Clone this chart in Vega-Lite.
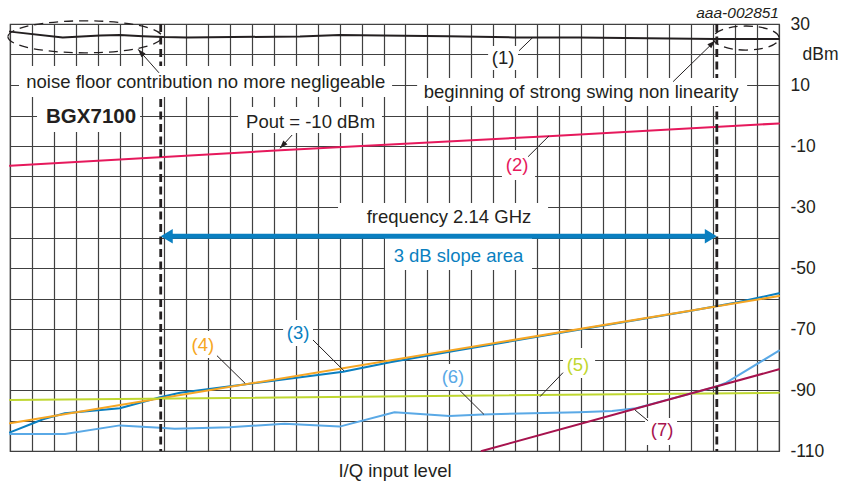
{
  "$schema": "https://vega.github.io/schema/vega-lite/v6.json",
  "width": 769,
  "height": 427,
  "autosize": {"type": "none"},
  "padding": {"left": 10, "top": 24, "right": 65, "bottom": 32},
  "background": "white",
  "config": {
    "view": {"stroke": "#404040", "strokeWidth": 1.2},
    "font": "Liberation Sans"
  },
  "title": {"text": "aaa-002851", "anchor": "end", "frame": "group", "fontStyle": "italic", "fontWeight": "normal", "fontSize": 15.5, "color": "#231f20", "offset": -6, "font": "Liberation Sans"},
  "datasets": {
    "series": [
      {"s": "1", "x": 0, "y": 27.5}, {"s": "1", "x": 2.4, "y": 25.6}, {"s": "1", "x": 4.1, "y": 26.2}, {"s": "1", "x": 5.0, "y": 26.4}, {"s": "1", "x": 6.05, "y": 26.0}, {"s": "1", "x": 7.0, "y": 25.7}, {"s": "1", "x": 8.05, "y": 25.6}, {"s": "1", "x": 13.2, "y": 25.9}, {"s": "1", "x": 15.0, "y": 26.4}, {"s": "1", "x": 19.9, "y": 26.0}, {"s": "1", "x": 22.9, "y": 25.6}, {"s": "1", "x": 25.9, "y": 25.6}, {"s": "1", "x": 32.1, "y": 25.1}, {"s": "1", "x": 35, "y": 25.1},
      {"s": "2", "x": 0, "y": -16.5}, {"s": "2", "x": 12.3, "y": -11.4}, {"s": "2", "x": 24.5, "y": -6.8}, {"s": "2", "x": 35, "y": -2.6},
      {"s": "3", "x": 0, "y": -103.9}, {"s": "3", "x": 1.05, "y": -100.9}, {"s": "3", "x": 1.5, "y": -99.6}, {"s": "3", "x": 2.5, "y": -97.6}, {"s": "3", "x": 5.0, "y": -96.0}, {"s": "3", "x": 6.83, "y": -92.4}, {"s": "3", "x": 7.74, "y": -90.9}, {"s": "3", "x": 11, "y": -87.9}, {"s": "3", "x": 15.16, "y": -84.0}, {"s": "3", "x": 17.3, "y": -80.9}, {"s": "3", "x": 20.2, "y": -77.2}, {"s": "3", "x": 25, "y": -71.3}, {"s": "3", "x": 31, "y": -64.0}, {"s": "3", "x": 33, "y": -61.4}, {"s": "3", "x": 35, "y": -58.3},
      {"s": "4", "x": 0, "y": -100.9}, {"s": "4", "x": 35, "y": -59.2},
      {"s": "5", "x": 0, "y": -93.3}, {"s": "5", "x": 35, "y": -90.9},
      {"s": "6", "x": 0, "y": -104.4}, {"s": "6", "x": 2.5, "y": -104.4}, {"s": "6", "x": 5.0, "y": -101.6}, {"s": "6", "x": 6.83, "y": -102.4}, {"s": "6", "x": 7.5, "y": -102.7}, {"s": "6", "x": 10.0, "y": -102.2}, {"s": "6", "x": 12.5, "y": -101.1}, {"s": "6", "x": 15.0, "y": -102.0}, {"s": "6", "x": 17.5, "y": -97.3}, {"s": "6", "x": 20.0, "y": -98.5}, {"s": "6", "x": 21.5, "y": -98.0}, {"s": "6", "x": 25.9, "y": -97.3}, {"s": "6", "x": 27.4, "y": -96.9}, {"s": "6", "x": 28.5, "y": -96.0}, {"s": "6", "x": 29.6, "y": -93.8}, {"s": "6", "x": 32.1, "y": -89.0}, {"s": "6", "x": 32.6, "y": -87.6}, {"s": "6", "x": 35, "y": -77.1},
      {"s": "7", "x": 21.47, "y": -110}, {"s": "7", "x": 35, "y": -83.2}
    ],
    "boxes": [
      {"x": 0.41, "x2": 17.39, "y": 16.23, "y2": 6.07},
      {"x": 18.53, "x2": 33.55, "y": 12.3, "y2": 3.11},
      {"x": 1.23, "x2": 5.92, "y": 6.07, "y2": -5.41},
      {"x": 10.38, "x2": 16.93, "y": 2.79, "y2": -5.74},
      {"x": 21.76, "x2": 23.12, "y": 22.79, "y2": 14.92},
      {"x": 22.39, "x2": 23.9, "y": -11.31, "y2": -21.15},
      {"x": 14.93, "x2": 24.49, "y": -28.69, "y2": -39.51},
      {"x": 17.07, "x2": 23.76, "y": -39.51, "y2": -50.66},
      {"x": 12.43, "x2": 13.79, "y": -67.05, "y2": -75.57},
      {"x": 8.19, "x2": 9.74, "y": -70.66, "y2": -79.51},
      {"x": 25.17, "x2": 26.63, "y": -76.23, "y2": -86.07},
      {"x": 19.48, "x2": 20.85, "y": -81.48, "y2": -90.0},
      {"x": 28.9, "x2": 30.36, "y": -99.18, "y2": -108.03}
    ],
    "texts": [
      {"t": "noise floor contribution no more negligeable", "x": 8.91, "y": 11.1, "c": "1"},
      {"t": "beginning of strong swing non linearity", "x": 25.99, "y": 7.8, "c": "1"},
      {"t": "Pout = -10 dBm", "x": 13.68, "y": -2.0, "c": "1"},
      {"t": "(1)", "x": 22.44, "y": 18.75, "c": "1"},
      {"t": "(2)", "x": 23.08, "y": -16.2, "c": "2"},
      {"t": "frequency 2.14 GHz", "x": 19.98, "y": -33.4, "c": "1"},
      {"t": "3 dB slope area", "x": 20.41, "y": -46.1, "c": "3"},
      {"t": "(3)", "x": 13.11, "y": -71.4, "c": "3"},
      {"t": "(4)", "x": 8.78, "y": -75.2, "c": "4"},
      {"t": "(5)", "x": 25.85, "y": -81.8, "c": "5"},
      {"t": "(6)", "x": 20.16, "y": -85.8, "c": "6"},
      {"t": "(7)", "x": 29.68, "y": -103.1, "c": "7"}
    ],
    "leaders": [
      {"x": 6.78, "y": 14.0, "x2": 5.83, "y2": 21.7},
      {"x": 30.18, "y": 11.1, "x2": 32.09, "y2": 24.5},
      {"x": 12.84, "y": -6.4, "x2": 12.29, "y2": -10.75},
      {"x": 23.17, "y": 21.25, "x2": 23.8, "y2": 25.64},
      {"x": 23.58, "y": -13.5, "x2": 24.53, "y2": -6.7},
      {"x": 13.79, "y": -73.6, "x2": 15.2, "y2": -83.7},
      {"x": 9.42, "y": -78.75, "x2": 10.7, "y2": -87.8},
      {"x": 25.17, "y": -84.3, "x2": 24.12, "y2": -92.2},
      {"x": 20.48, "y": -90.2, "x2": 21.57, "y2": -98.0},
      {"x": 29.04, "y": -100.1, "x2": 28.45, "y2": -96.6}
    ]
  },
  "layer": [
    {
      "data": {"name": "series"},
      "mark": {"type": "line", "strokeCap": "round", "strokeJoin": "round"},
      "encoding": {
        "x": {"field": "x", "type": "quantitative", "scale": {"domain": [0, 35], "nice": false, "zero": false},
          "axis": {"values": [0,1,2,3,4,5,6,7,8,9,10,11,12,13,14,15,16,17,18,19,20,21,22,23,24,25,26,27,28,29,30,31,32,33,34,35], "tickCount": 100, "labels": false, "ticks": false, "domain": false, "grid": true, "gridColor": "#404040", "gridWidth": 1.2, "gridOpacity": 1, "title": "I/Q input level", "titleFont": "Liberation Sans", "titleFontSize": 18.5, "titleFontWeight": "normal", "titleColor": "#231f20", "titlePadding": 10}},
        "y": {"field": "y", "type": "quantitative", "scale": {"domain": [-110, 30], "nice": false, "zero": false},
          "axis": {"orient": "right", "values": [-110,-100,-90,-80,-70,-60,-50,-40,-30,-20,-10,0,10,20,30], "tickCount": 100, "ticks": false, "domain": false, "grid": true, "gridColor": "#404040", "gridWidth": 1.2, "gridOpacity": 1, "title": null,
            "labelExpr": "datum.value == 20 ? 'dBm' : ((datum.value - 10) % 20 == 0 ? '' + datum.value : '')",
            "labelFont": "Liberation Sans", "labelFontSize": 17.5, "labelColor": "#231f20", "labelAlign": "left", "labelBaseline": "middle", "labelOverlap": false, "labelBound": false,
            "labelPadding": {"condition": {"test": "datum.value == 20", "value": 23}, "value": 11}}},
        "color": {"field": "s", "type": "nominal", "scale": {"domain": ["1","2","3","4","5","6","7"], "range": ["#231f20","#e6195c","#0a7fc0","#f6a623","#bfd730","#5aa9e6","#a7134e"]}, "legend": null},
        "strokeWidth": {"field": "s", "type": "nominal", "scale": {"domain": ["1","2","3","4","5","6","7"], "range": [2, 2, 2, 3.5, 2.5, 2, 3]}, "legend": null}
      }
    },
    {
      "data": {"values": [{"x": 6.86}, {"x": 32.17}]},
      "mark": {"type": "rule", "color": "#231f20", "strokeWidth": 2.8, "strokeDash": [8, 4.5]},
      "encoding": {
        "x": {"field": "x", "type": "quantitative"}
      }
    },
    {
      "data": {"name": "boxes"},
      "mark": {"type": "rect", "fill": "white", "stroke": null},
      "encoding": {
        "x": {"field": "x", "type": "quantitative"},
        "x2": {"field": "x2"},
        "y": {"field": "y", "type": "quantitative"},
        "y2": {"field": "y2"}
      }
    },
    {
      "data": {"values": [{"x": 3.41, "y": 25.8}]},
      "mark": {"type": "point", "filled": false, "opacity": 1, "stroke": "#231f20", "strokeWidth": 1.3, "strokeDash": [9, 6], "size": 23716, "shape": "M-1,0A1,0.208,0,1,0,1,0A1,0.208,0,1,0,-1,0Z"},
      "encoding": {
        "x": {"field": "x", "type": "quantitative"},
        "y": {"field": "y", "type": "quantitative"}
      }
    },
    {
      "data": {"values": [{"x": 33.5, "y": 25.4}]},
      "mark": {"type": "point", "filled": false, "opacity": 1, "stroke": "#231f20", "strokeWidth": 1.3, "strokeDash": [9, 6], "size": 4356, "shape": "M-1,0A1,0.364,0,1,0,1,0A1,0.364,0,1,0,-1,0Z"},
      "encoding": {
        "x": {"field": "x", "type": "quantitative"},
        "y": {"field": "y", "type": "quantitative"}
      }
    },
    {
      "data": {"name": "texts"},
      "mark": {"type": "text", "font": "Liberation Sans", "fontSize": 18.5, "align": "center", "baseline": "middle"},
      "encoding": {
        "x": {"field": "x", "type": "quantitative"},
        "y": {"field": "y", "type": "quantitative"},
        "text": {"field": "t"},
        "color": {"field": "c", "type": "nominal", "scale": {"domain": ["1","2","3","4","5","6","7"], "range": ["#231f20","#e6195c","#0a7fc0","#f6a623","#bfd730","#5aa9e6","#a7134e"]}, "legend": null}
      }
    },
    {
      "data": {"values": [{"t": "BGX7100", "x": 3.69, "y": -0.6}]},
      "mark": {"type": "text", "font": "Liberation Sans", "fontSize": 20.5, "fontWeight": "bold", "align": "center", "baseline": "middle", "color": "#231f20"},
      "encoding": {
        "x": {"field": "x", "type": "quantitative"},
        "y": {"field": "y", "type": "quantitative"},
        "text": {"field": "t"}
      }
    },
    {
      "data": {"name": "leaders"},
      "mark": {"type": "rule", "color": "#231f20", "strokeWidth": 1},
      "encoding": {
        "x": {"field": "x", "type": "quantitative"},
        "x2": {"field": "x2"},
        "y": {"field": "y", "type": "quantitative"},
        "y2": {"field": "y2"}
      }
    },
    {
      "data": {"values": [{"x": 5.83, "y": 21.7}]},
      "mark": {"type": "point", "filled": true, "opacity": 1, "fill": "#231f20", "strokeWidth": 0, "size": 64, "shape": "M0,0L-2,-0.7L-2,0.7Z", "angle": 228},
      "encoding": {
        "x": {"field": "x", "type": "quantitative"},
        "y": {"field": "y", "type": "quantitative"}
      }
    },
    {
      "data": {"values": [{"x": 32.09, "y": 24.5}]},
      "mark": {"type": "point", "filled": true, "opacity": 1, "fill": "#231f20", "strokeWidth": 0, "size": 64, "shape": "M0,0L-2,-0.7L-2,0.7Z", "angle": 316},
      "encoding": {
        "x": {"field": "x", "type": "quantitative"},
        "y": {"field": "y", "type": "quantitative"}
      }
    },
    {
      "data": {"values": [{"x": 12.29, "y": -10.75}]},
      "mark": {"type": "point", "filled": true, "opacity": 1, "fill": "#231f20", "strokeWidth": 0, "size": 64, "shape": "M0,0L-2,-0.7L-2,0.7Z", "angle": 132},
      "encoding": {
        "x": {"field": "x", "type": "quantitative"},
        "y": {"field": "y", "type": "quantitative"}
      }
    },
    {
      "data": {"values": [{"x": 7.1, "x2": 31.93, "y": -39.6}]},
      "mark": {"type": "rule", "color": "#0a7fc0", "strokeWidth": 5},
      "encoding": {
        "x": {"field": "x", "type": "quantitative"},
        "x2": {"field": "x2"},
        "y": {"field": "y", "type": "quantitative"}
      }
    },
    {
      "data": {"values": [{"x": 6.86, "y": -39.6}]},
      "mark": {"type": "point", "filled": true, "opacity": 1, "fill": "#0a7fc0", "strokeWidth": 0, "size": 144, "shape": "M0,0L2,-1.2L2,1.2Z"},
      "encoding": {
        "x": {"field": "x", "type": "quantitative"},
        "y": {"field": "y", "type": "quantitative"}
      }
    },
    {
      "data": {"values": [{"x": 32.17, "y": -39.6}]},
      "mark": {"type": "point", "filled": true, "opacity": 1, "fill": "#0a7fc0", "strokeWidth": 0, "size": 144, "shape": "M0,0L-2,-1.2L-2,1.2Z"},
      "encoding": {
        "x": {"field": "x", "type": "quantitative"},
        "y": {"field": "y", "type": "quantitative"}
      }
    }
  ]
}
